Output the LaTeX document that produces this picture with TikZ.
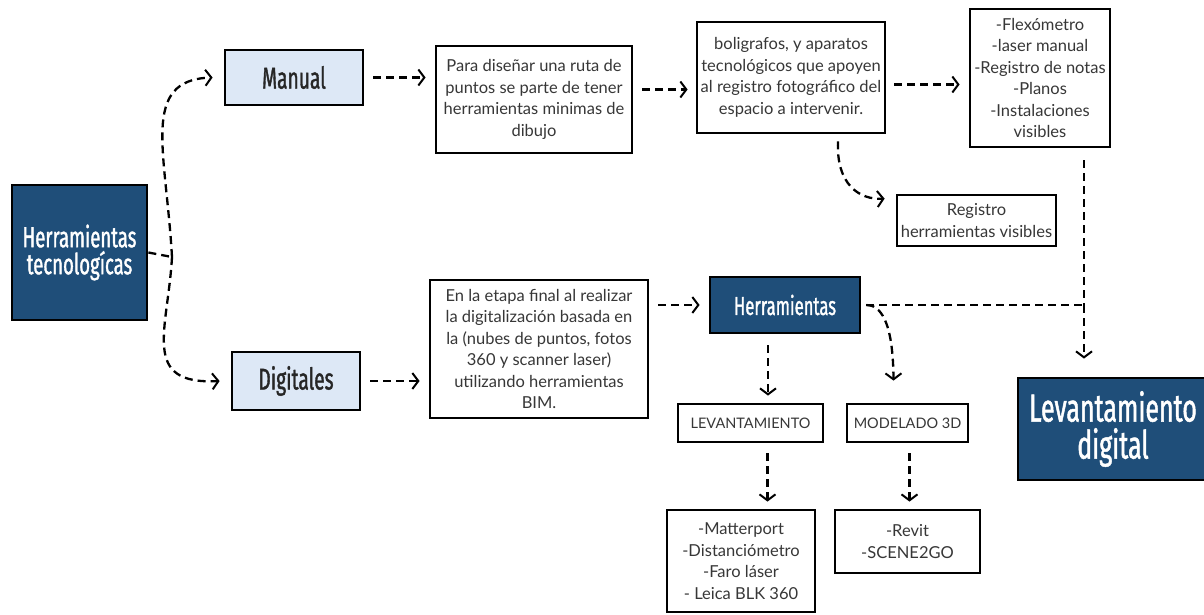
\documentclass[tikz,border=0pt]{standalone}
\usepackage{fontspec}
\usetikzlibrary{arrows.meta,calc}
\setmainfont{Lato}
\newfontfamily\handfont[FakeStretch=0.64,FakeBold=1.2]{Fira Sans}
\newfontfamily\bodyfont{Lato}
\definecolor{dblue}{RGB}{31,78,121}
\definecolor{lblue}{RGB}{221,232,246}
\definecolor{txtgray}{RGB}{55,55,55}
\tikzset{
  box/.style={draw=black, line width=2.8pt, inner sep=0pt, align=center},
  darkbox/.style={box, fill=dblue, text=white},
  lightbox/.style={box, fill=lblue, text=black!85},
  textbox/.style={box, fill=white, text=txtgray, font=\bodyfont\fontsize{16.5}{21.5}\selectfont},
  smallbox/.style={textbox, font=\bodyfont\fontsize{14.5}{18}\selectfont},
  dashline/.style={line width=2.3pt, dash pattern=on 8pt off 5pt},
  conn/.style={dashline, -{Straight Barb[length=6pt,width=16pt,line width=2pt]}}
}
\begin{document}
\begin{tikzpicture}[x=1pt,y=-1pt]
\useasboundingbox (0,0) rectangle (1204,615);
% nodes
\node[darkbox, minimum width=135pt, minimum height=135pt, font=\handfont\fontsize{29}{27}\selectfont] (hrt) at (79.5,252.5) {Herramientas\\tecnologícas};
\node[lightbox, minimum width=138pt, minimum height=55pt, font=\handfont\fontsize{30}{30}\selectfont] (manual) at (294,77.5) {Manual};
\node[lightbox, minimum width=128pt, minimum height=58pt, font=\handfont\fontsize{30}{30}\selectfont] (digi) at (296,381) {Digitales};
\node[textbox, minimum width=196pt, minimum height=107pt] (para) at (534,99.5) {Para diseñar una ruta de\\puntos se parte de tener\\herramientas minimas de\\dibujo};
\node[textbox, minimum width=188pt, minimum height=111pt] (boli) at (791,77.5) {boligrafos, y aparatos\\tecnológicos que apoyen\\al registro fotográfico del\\espacio a intervenir.};
\node[textbox, minimum width=140pt, minimum height=138pt] (flex) at (1040,78) {-Flexómetro\\-laser manual\\-Registro de notas\\-Planos\\-Instalaciones\\visibles};
\node[textbox, minimum width=159pt, minimum height=51pt] (reg) at (976.5,220.5) {Registro\\herramientas visibles};
\node[textbox, minimum width=218pt, minimum height=138pt] (etapa) at (539,349) {En la etapa final al realizar\\la digitalización basada en\\la (nubes de puntos, fotos\\360 y scanner laser)\\utilizando herramientas\\BIM.};
\node[darkbox, minimum width=150pt, minimum height=56pt, font=\handfont\fontsize{26}{26}\selectfont] (herr) at (785,305) {Herramientas};
\node[smallbox, minimum width=145pt, minimum height=38pt] (lev) at (750.5,423) {LEVANTAMIENTO};
\node[smallbox, minimum width=121pt, minimum height=38pt] (mod) at (907.5,423) {MODELADO 3D};
\node[textbox, minimum width=148pt, minimum height=102pt] (matt) at (741,561) {-Matterport\\-Distanciómetro\\-Faro láser\\- Leica BLK 360};
\node[textbox, minimum width=145pt, minimum height=63pt] (revit) at (907.5,541.5) {-Revit\\-SCENE2GO};
\node[darkbox, minimum width=190pt, minimum height=102pt, font=\handfont\fontsize{39}{37}\selectfont] (levdig) at (1113,429) {Levantamiento\\digital};
% connectors
\coordinate (j) at (172,257);
\draw[dashline] (hrt.east) -- (j);
\draw[conn] (j) .. controls (166,150) and (140,80) .. ([xshift=-11pt]manual.west);
\draw[conn] (j) .. controls (168,330) and (140,385) .. ([xshift=-11pt]digi.west);
\coordinate (a1) at (manual.east -| para.west);
\draw[conn] ([xshift=9pt]manual.east) -- ([xshift=-9pt]a1);
\coordinate (a2) at ([yshift=10pt]para.east);
\coordinate (a3) at (a2 -| boli.west);
\draw[conn] ([xshift=9pt]a2) -- ([xshift=-8pt]a3);
\coordinate (a4) at ([yshift=-7pt]boli.east);
\coordinate (a5) at (a4 -| flex.west);
\draw[conn] ([xshift=8pt]a4) -- ([xshift=-9pt]a5);
\draw[conn] ([xshift=47pt,yshift=-7pt]boli.south) .. controls (836,185) and (860,200) .. ([xshift=-11pt,yshift=-5pt]reg.north west);
\coordinate (a6) at (digi.east -| etapa.west);
\draw[conn] ([xshift=9pt]digi.east) -- ([xshift=-9pt]a6);
\coordinate (a7) at (herr.west -| etapa.east);
\draw[conn] ([xshift=9pt]a7) -- ([xshift=-9pt]herr.west);
\coordinate (b1) at ([xshift=-17pt,yshift=-11pt]herr.south);
\coordinate (b2) at (b1 |- lev.north);
\draw[conn] (b1) -- ([yshift=7pt]b2);
\draw[conn] ([xshift=5pt]herr.east) .. controls (880,305) and (893,320) .. ([xshift=-14pt,yshift=22pt]mod.north);
\coordinate (k) at (1084,305);
\draw[dashline] ([xshift=44pt,yshift=-12pt]flex.south) -- (k);
\draw[dashline] ([xshift=5pt]herr.east) -- (k);
\draw[conn] (k) -- ([yshift=18pt]k |- levdig.north);
\coordinate (c1) at ([xshift=17pt,yshift=-10pt]lev.south);
\coordinate (c2) at (c1 |- matt.north);
\draw[conn] (c1) -- ([yshift=7pt]c2);
\draw[conn] ([xshift=2pt,yshift=-10pt]mod.south) -- ([xshift=2pt,yshift=7pt]revit.north);
\end{tikzpicture}
\end{document}
